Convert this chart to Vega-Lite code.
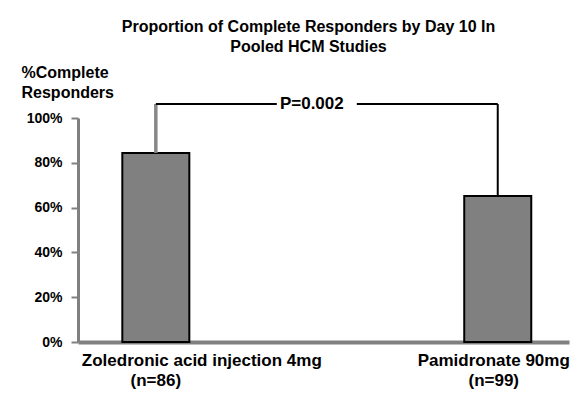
{
  "$schema": "https://vega.github.io/schema/vega-lite/v6.json",
  "autosize": {"type": "none"},
  "padding": {"left": 78, "top": 118, "right": 5, "bottom": 52},
  "width": 491,
  "height": 224,
  "background": "white",
  "config": {"view": {"stroke": null}, "font": "Liberation Sans"},
  "title": {
    "text": ["Proportion of Complete Responders by Day 10 In", "Pooled HCM Studies"],
    "fontSize": 16,
    "fontWeight": "bold",
    "anchor": "middle",
    "dx": -15,
    "dy": -5,
    "lineHeight": 20,
    "color": "black"
  },
  "datasets": {
    "bars": [
      {"drug": "Zoledronic acid injection 4mg", "n": "(n=86)", "pct": 0.844},
      {"drug": "Pamidronate 90mg", "n": "(n=99)", "pct": 0.652}
    ],
    "bracket": [
      {"from": "Zoledronic acid injection 4mg", "to": "Pamidronate 90mg", "level": 1.0625, "label": "P=0.002"}
    ]
  },
  "layer": [
    {
      "data": {"name": "bars"},
      "mark": {"type": "bar", "color": "#808080", "stroke": "black", "strokeWidth": 2},
      "encoding": {
        "x": {
          "field": "drug",
          "type": "nominal",
          "scale": {
            "domain": ["Zoledronic acid injection 4mg", "Pamidronate 90mg"],
            "paddingInner": 0.804,
            "paddingOuter": 0.12,
            "align": 0.54
          },
          "axis": {
            "title": null,
            "orient": "bottom",
            "labelAngle": 0,
            "ticks": false,
            "domainColor": "#808080",
            "domainWidth": 4,
            "labelFontSize": 17,
            "labelFontWeight": "bold",
            "labelColor": "black",
            "labelPadding": 10,
            "labelLimit": 0,
            "labelOffset": {
              "condition": {"test": "datum.value === 'Zoledronic acid injection 4mg'", "value": 46},
              "value": -4
            }
          }
        },
        "y": {
          "field": "pct",
          "type": "quantitative",
          "scale": {"domain": [0, 1]},
          "axis": {
            "title": ["%Complete", "Responders"],
            "titleAngle": 0,
            "titleAlign": "left",
            "titleBaseline": "top",
            "titleX": -57,
            "titleY": -54,
            "titleFontSize": 16,
            "titleFontWeight": "bold",
            "titleLineHeight": 20,
            "titleColor": "black",
            "format": ".0%",
            "values": [0, 0.2, 0.4, 0.6, 0.8, 1],
            "grid": false,
            "domainColor": "#808080",
            "domainWidth": 3,
            "tickColor": "#808080",
            "tickWidth": 2,
            "tickSize": 7,
            "labelFontSize": 14,
            "labelFontWeight": "bold",
            "labelColor": "black",
            "labelPadding": 9
          }
        }
      }
    },
    {
      "data": {"name": "bars"},
      "mark": {"type": "rule"},
      "encoding": {
        "x": {
          "field": "drug",
          "type": "nominal",
          "axis": {
            "title": null,
            "orient": "bottom",
            "labelAngle": 0,
            "domain": false,
            "ticks": false,
            "offset": 20,
            "labelFontSize": 17,
            "labelFontWeight": "bold",
            "labelColor": "black",
            "labelPadding": 10,
            "labelExpr": "datum.value === 'Zoledronic acid injection 4mg' ? '(n=86)' : '(n=99)'",
            "labelOffset": {
              "condition": {"test": "datum.value === 'Zoledronic acid injection 4mg'", "value": 0},
              "value": -4
            }
          }
        },
        "y": {"field": "pct", "type": "quantitative"},
        "y2": {"datum": 1.0625},
        "color": {
          "condition": {"test": "datum.drug === 'Zoledronic acid injection 4mg'", "value": "#888888"},
          "value": "black"
        },
        "strokeWidth": {
          "condition": {"test": "datum.drug === 'Zoledronic acid injection 4mg'", "value": 3.5},
          "value": 2
        }
      }
    },
    {
      "data": {"name": "bracket"},
      "mark": {"type": "rule", "color": "black", "strokeWidth": 2, "strokeDash": [121, 80, 300]},
      "encoding": {
        "x": {"field": "from", "type": "nominal", "axis": null},
        "x2": {"field": "to"},
        "y": {"field": "level", "type": "quantitative"}
      }
    },
    {
      "data": {"name": "bracket"},
      "mark": {"type": "text", "fontSize": 17, "fontWeight": "bold", "align": "center", "baseline": "middle", "dx": 156, "color": "black"},
      "encoding": {
        "x": {"field": "from", "type": "nominal", "axis": null},
        "y": {"field": "level", "type": "quantitative"},
        "text": {"field": "label"}
      }
    }
  ],
  "resolve": {"axis": {"x": "independent"}}
}
